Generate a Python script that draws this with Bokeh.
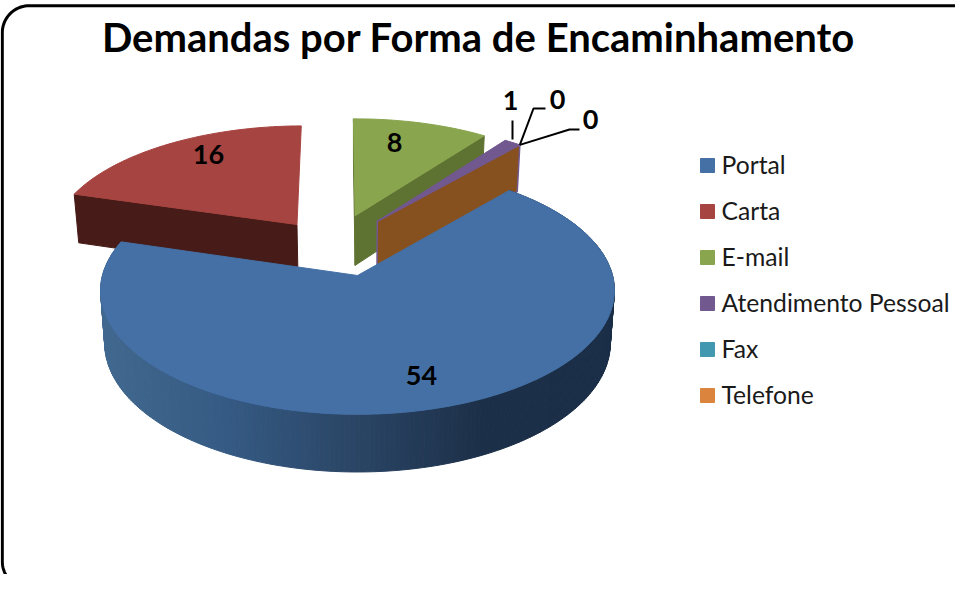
import math
from bokeh.plotting import figure
from bokeh.models import Range1d
from bokeh.core.properties import value
from bokeh.embed import file_html
from bokeh.resources import INLINE

# ---- data
title_text = "Demandas por Forma de Encaminhamento"
categories = ["Portal", "Carta", "E-mail", "Atendimento Pessoal", "Fax", "Telefone"]
values = [54, 16, 8, 1, 0, 0]
colors = ["#4470A6", "#A64441", "#89A54E", "#71588F", "#4198AF", "#DB843D"]
wall_colors = ["#2F4D73", "#471B17", "#5E7332", "#4E3D63", "#2D6979", "#87501F"]

# ---- pie layout (screen-pixel coordinates through the figure's own ranges)
W, H = 955, 574
CX, CY = 365.0, 283.0
RX, RY = 255.0, 122.0
PERSP = 0.121
START = 40.5
explode = [(0.0, 0.0), (-0.25, 0.44), (-0.01, 0.52), (0.082, 0.47), (0.082, 0.47), (0.082, 0.47)]
label_font = value("Lato")

p = figure(width=W, height=H, x_range=Range1d(8, 8 + W), y_range=Range1d(8 + H, 8),
           toolbar_location=None, output_backend="svg", min_border=0,
           background_fill_color="#FFFFFF", border_fill_color="#FFFFFF")
p.xaxis.visible = False
p.yaxis.visible = False
p.xgrid.visible = False
p.ygrid.visible = False
p.outline_line_color = None


def project(u, v, z=0.0):
    w = 1 + PERSP * v
    vw = v / w
    x = CX + RX * u / w * (1 - 0.016 * z)
    y = CY - RY * vw + z * (52 - 5 * vw)
    return x, y


def rim(theta, ex, z=0.0):
    a = math.radians(theta)
    return project(math.sin(a) + ex[0], math.cos(a) + ex[1], z)


def hexmix(stops, t):
    t = max(0.0, min(1.0, t))
    n = len(stops) - 1
    i = min(int(t * n), n - 1)
    f = t * n - i
    a, b = stops[i], stops[i + 1]
    ca = [int(a[j:j + 2], 16) for j in (1, 3, 5)]
    cb = [int(b[j:j + 2], 16) for j in (1, 3, 5)]
    return "#%02x%02x%02x" % tuple(int(round(x + (y - x) * f)) for x, y in zip(ca, cb))


# slice angles from the values
total = sum(values)
angles = []
cur = START
for val in values:
    nxt = cur + val / total * 360.0
    angles.append((cur, nxt))
    cur = nxt


def top_face(i):
    a0, a1 = angles[i]
    ex = explode[i]
    n = max(2, int((a1 - a0) / 1.5))
    pts = [project(ex[0], ex[1])]
    for k in range(n + 1):
        pts.append(rim(a0 + (a1 - a0) * k / n, ex))
    return pts


def radial_wall(theta, ex):
    return [project(ex[0], ex[1]), rim(theta, ex), rim(theta, ex, 1.0), project(ex[0], ex[1], 1.0)]


def draw(pts, color, line=None, lw=1):
    p.patch([q[0] for q in pts], [q[1] for q in pts], fill_color=color,
            line_color=line or color, line_width=lw)


# back slices
draw(radial_wall(angles[1][0], explode[1]), wall_colors[1])
draw(top_face(1), colors[1])
draw(radial_wall(angles[2][0], explode[2]), wall_colors[2])
draw(radial_wall(angles[2][1], explode[2]), wall_colors[2])
draw(top_face(2), colors[2])
draw(top_face(3), colors[3], colors[3])
draw(radial_wall(angles[5][1], explode[5]), wall_colors[5], colors[3], 1.5)

# portal rim with shading along the curve
a0, a1 = angles[0]
stops = ["#41688F", "#355A83", "#2A4565", "#1C2F48", "#1B2E47"]
steps = int((a1 - a0) / 1.0)
for k in range(steps):
    t0 = a0 + (a1 - a0) * k / steps
    t1 = a0 + (a1 - a0) * (k + 1) / steps
    quad = [rim(t0, explode[0]), rim(t1, explode[0]), rim(t1, explode[0], 1.0), rim(t0, explode[0], 1.0)]
    c = hexmix(stops, (quad[0][0] - 108) / 514)
    draw(quad, c)
draw(top_face(0), colors[0])

# leader lines of the small slices
leader_color = "#000000"
tip = rim(angles[5][1], explode[5])
p.line([520, 520], [128, 147], line_color=leader_color, line_width=2)
p.line([tip[0], 541, 553], [tip[1], 116, 116], line_color=leader_color, line_width=2)
p.line([tip[0], 577, 587], [tip[1], 137, 137], line_color=leader_color, line_width=2)

# data labels
label_x = [429, 216, 402, 518, 565, 598]
label_y = [383, 162, 150, 108, 107, 127]
p.text(label_x, label_y, text=[str(v) for v in values], text_font=label_font, text_font_style="bold",
       text_font_size="27px", text_align="center", text_baseline="middle", text_color="#000000")

# title
p.text([486], [44], text=[title_text], text_font=label_font, text_font_style="bold",
       text_font_size="40px", text_align="center", text_baseline="middle", text_color="#000000")

# legend
legend_y = [173, 219, 265, 311, 357, 403]
p.rect([715] * 6, legend_y, width=14, height=14, fill_color=colors, line_color=colors)
p.text([729] * 6, [y - 1 for y in legend_y], text=categories, text_font=label_font, text_font_size="24.7px",
       text_align="left", text_baseline="middle", text_color="#1A1A1A")

# rounded frame
fr = 27
fx0, fy0, fy1 = 9.8, 13.2, 596
xs, ys = [975], [fy0]
for k in range(21):
    a = math.radians(90 + 90 * k / 20)
    xs.append(fx0 + fr + fr * math.cos(a))
    ys.append(fy0 + fr - fr * math.sin(a))
for k in range(21):
    a = math.radians(180 + 90 * k / 20)
    xs.append(fx0 + fr + fr * math.cos(a))
    ys.append(fy1 - fr - fr * math.sin(a))
p.line(xs, ys, line_color="#000000", line_width=3)

open("out.html", "w").write(file_html(p, INLINE))
